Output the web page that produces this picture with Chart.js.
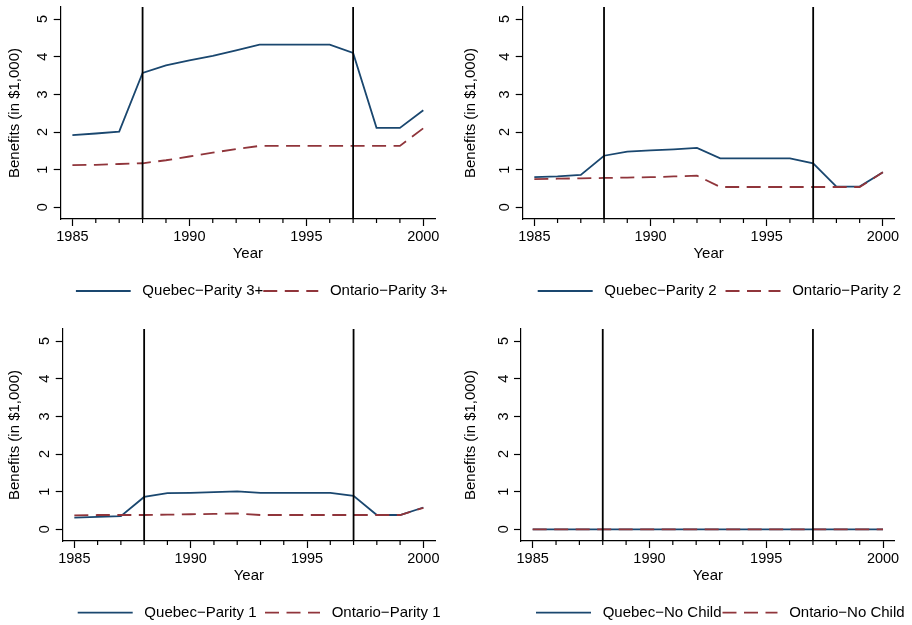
<!DOCTYPE html>
<html lang="en">
<head>
<meta charset="UTF-8">
<title>Benefits by parity, Quebec vs Ontario</title>
<script src="https://cdn.jsdelivr.net/npm/chart.js"></script>
<style>
  body { margin: 0; background: #fff; }
  #wrap { position: relative; width: 912px; height: 625px; }
  canvas { position: absolute; }
</style>
</head>
<body>
<div id="wrap">
  <canvas id="p1" width="456" height="303" style="left:0px;top:0px"></canvas>
  <canvas id="p2" width="456" height="303" style="left:456px;top:0px"></canvas>
  <canvas id="p3" width="456" height="303" style="left:0px;top:322px"></canvas>
  <canvas id="p4" width="456" height="303" style="left:456px;top:322px"></canvas>
</div>
<script>
// Data (benefits in $1,000)
const years = [1985, 1986, 1987, 1988, 1989, 1990, 1991, 1992, 1993, 1994, 1995, 1996, 1997, 1998, 1999, 2000];

const quebecP3  = [1.92, 1.96, 2.01, 3.57, 3.77, 3.90, 4.02, 4.17, 4.32, 4.32, 4.32, 4.32, 4.10, 2.11, 2.11, 2.58];
const ontarioP3 = [1.12, 1.13, 1.15, 1.17, 1.25, 1.35, 1.45, 1.55, 1.63, 1.63, 1.63, 1.63, 1.63, 1.63, 1.63, 2.10];

const quebecP2  = [0.80, 0.82, 0.86, 1.37, 1.48, 1.51, 1.54, 1.58, 1.30, 1.30, 1.30, 1.30, 1.17, 0.55, 0.55, 0.93];
const ontarioP2 = [0.75, 0.76, 0.77, 0.78, 0.79, 0.80, 0.82, 0.84, 0.54, 0.54, 0.54, 0.54, 0.54, 0.54, 0.54, 0.93];

const quebecP1  = [0.31, 0.33, 0.35, 0.86, 0.96, 0.97, 0.99, 1.01, 0.97, 0.97, 0.97, 0.97, 0.89, 0.38, 0.38, 0.58];
const ontarioP1 = [0.37, 0.38, 0.38, 0.38, 0.39, 0.40, 0.41, 0.42, 0.38, 0.38, 0.38, 0.38, 0.38, 0.38, 0.38, 0.57];

const quebecNC  = [0, 0, 0, 0, 0, 0, 0, 0, 0, 0, 0, 0, 0, 0, 0, 0];
const ontarioNC = [0, 0, 0, 0, 0, 0, 0, 0, 0, 0, 0, 0, 0, 0, 0, 0];

const reformYears = [1988, 1997];
const yTicks = [0, 1, 2, 3, 4, 5];
const xTicks = [1985, 1990, 1995, 2000];

const FONT = "'Liberation Sans', Arial, Helvetica, sans-serif";
const BLUE = '#1a476f';
const RED = '#90353b';

Chart.defaults.font.family = FONT;
Chart.defaults.color = '#000';

// one entry per panel: which series, plus where things sit inside its canvas
const panels = [
  { id: 'p1', q: quebecP3, o: ontarioP3, qLabel: 'Quebec\u2212Parity 3+', oLabel: 'Ontario\u2212Parity 3+',
    axisLeft: 60.7, padRight: 21, legendX: 75.7, legendY: 291, gap: 0 },
  { id: 'p2', q: quebecP2, o: ontarioP2, qLabel: 'Quebec\u2212Parity 2', oLabel: 'Ontario\u2212Parity 2',
    axisLeft: 66.7, padRight: 17.5, legendX: 81.7, legendY: 291, gap: 9 },
  { id: 'p3', q: quebecP1, o: ontarioP1, qLabel: 'Quebec\u2212Parity 1', oLabel: 'Ontario\u2212Parity 1',
    axisLeft: 62.7, padRight: 21, legendX: 77.7, legendY: 290.7, gap: 8.5 },
  { id: 'p4', q: quebecNC, o: ontarioNC, qLabel: 'Quebec\u2212No Child', oLabel: 'Ontario\u2212No Child',
    axisLeft: 65, padRight: 17.3, legendX: 80, legendY: 290.7, gap: 1 }
];

// reform lines, minor year ticks, rotated y labels, legend placement
const extras = {
  id: 'extras',
  afterLayout(chart, args, opts) {
    const lg = chart.legend;
    lg.left = opts.legendX - opts.gap;
    lg.top = opts.legendY - 7.5 - opts.gap;
    lg.right = chart.width;
    lg.bottom = chart.height;
    lg.width = lg.right - lg.left;
    lg.height = lg.bottom - lg.top;
  },
  afterDatasetsDraw(chart) {
    const { ctx, chartArea: a, scales: { x, y } } = chart;
    ctx.save();
    ctx.strokeStyle = '#000';
    ctx.lineWidth = 1.8;
    reformYears.forEach(yr => {
      const px = x.getPixelForValue(yr);
      ctx.beginPath();
      ctx.moveTo(px, a.top);
      ctx.lineTo(px, a.bottom);
      ctx.stroke();
    });
    ctx.lineWidth = 1.2;
    years.forEach(yr => {
      if (xTicks.includes(yr)) return;
      const px = x.getPixelForValue(yr);
      ctx.beginPath();
      ctx.moveTo(px, a.bottom);
      ctx.lineTo(px, a.bottom + 4);
      ctx.stroke();
    });
    ctx.fillStyle = '#000';
    ctx.font = '14.5px ' + FONT;
    ctx.textAlign = 'center';
    ctx.textBaseline = 'alphabetic';
    y.ticks.forEach(t => {
      ctx.save();
      ctx.translate(y.right - 13.5, y.getPixelForValue(t.value));
      ctx.rotate(-Math.PI / 2);
      ctx.fillText(String(t.value), 0, 0);
      ctx.restore();
    });
    ctx.restore();
  }
};

function points(vals) {
  return years.map((yr, i) => ({ x: yr, y: vals[i] }));
}

// legend samples take their dash and width from the dataset line itself
function legendLabels(chart) {
  return Chart.defaults.plugins.legend.labels.generateLabels(chart).map(it => {
    const ds = chart.data.datasets[it.datasetIndex];
    it.text = ' ' + it.text;
    it.lineDash = ds.borderDash || [];
    it.lineWidth = ds.borderWidth;
    it.strokeStyle = ds.borderColor;
    return it;
  });
}

panels.forEach(p => {
  new Chart(document.getElementById(p.id), {
    type: 'line',
    data: {
      datasets: [
        { label: p.qLabel, data: points(p.q), borderColor: BLUE, borderWidth: 1.8,
          pointRadius: 0, tension: 0, fill: false, order: 1 },
        { label: p.oLabel, data: points(p.o), borderColor: RED, borderWidth: 1.8, borderDash: [14, 7.5],
          pointRadius: 0, tension: 0, fill: false, order: 0 }
      ]
    },
    plugins: [extras],
    options: {
      responsive: false,
      animation: false,
      events: [],
      layout: { padding: { top: 7, right: p.padRight, bottom: 15, left: 0 } },
      scales: {
        x: {
          type: 'linear',
          min: 1984.5,
          max: 2000.5,
          afterBuildTicks: s => { s.ticks = xTicks.map(v => ({ value: v })); },
          afterFit: s => { s.height = 44; },
          ticks: { callback: v => String(v), font: { size: 14.5 }, padding: 2, maxRotation: 0, autoSkip: false },
          grid: { drawOnChartArea: false, tickLength: 7, tickColor: '#000', tickWidth: 1.2 },
          border: { color: '#000', width: 1.2 },
          title: { display: true, text: 'Year', font: { size: 15 }, padding: { top: 0, bottom: 0 } }
        },
        y: {
          type: 'linear',
          min: -0.31,
          max: 5.32,
          afterBuildTicks: s => { s.ticks = yTicks.map(v => ({ value: v })); },
          afterFit: s => { s.width = p.axisLeft; },
          ticks: { display: false },
          grid: { drawOnChartArea: false, tickLength: 7, tickColor: '#000', tickWidth: 1.2 },
          border: { color: '#000', width: 1.2 },
          title: { display: true, text: 'Benefits (in $1,000)', font: { size: 15 }, padding: { top: 6, bottom: 0 } }
        }
      },
      plugins: {
        tooltip: { enabled: false },
        extras: { legendX: p.legendX, legendY: p.legendY, gap: p.gap },
        legend: {
          position: 'bottom',
          align: 'start',
          maxHeight: 25,
          labels: {
            usePointStyle: true,
            pointStyle: 'line',
            pointStyleWidth: 55,
            padding: p.gap,
            color: '#000',
            font: { size: 15 },
            sort: (a, b) => a.datasetIndex - b.datasetIndex,
            generateLabels: legendLabels
          }
        }
      }
    }
  });
});
</script>
</body>
</html>
